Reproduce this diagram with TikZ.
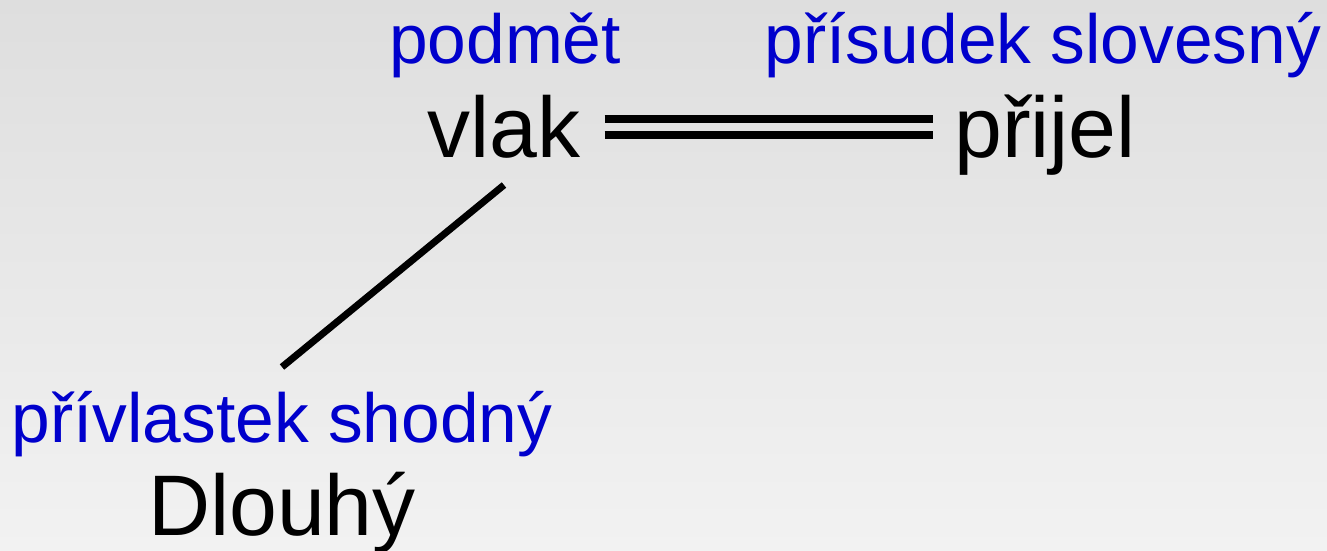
\documentclass[tikz,border=0pt]{standalone}
\usepackage[svgnames, dvipsnames, usenames]{xcolor}
\usepackage{fontspec}
\setmainfont{Liberation Sans}
\usepackage{tikz}
\usetikzlibrary{positioning}

\definecolor{rolecolor}{RGB}{0,0,204}
\definecolor{bgtop}{RGB}{222,222,222}
\definecolor{bgbottom}{RGB}{242,242,242}

\tikzset{
  word/.style={anchor=base, inner sep=0pt, text=black, font=\fontsize{86}{100}\selectfont},
  role/.style={anchor=base, inner sep=0pt, text=rolecolor, font=\fontsize{69.5}{80}\selectfont},
  link/.style={line width=7pt, line cap=butt}
}

\begin{document}
\begin{tikzpicture}[x=1pt, y=-1pt]
%%%%% Background %%%%%
\shade[top color=bgtop, bottom color=bgbottom] (0,0) rectangle (1327,550);
\useasboundingbox (0,0) rectangle (1327,550);
%%%%% Words %%%%%
\node[word] (vlak) at (504,157) {vlak};
\node[word] (prijel) at (1045,157) {přijel};
\node[word] (dlouhy) at (282,535) {Dlouhý};
%%%%% Roles %%%%%
\node[role] (podmet) at (505,63) {podmět};
\node[role] (prisudek) at (1043,63) {přísudek slovesný};
\node[role] (privlastek) at (282,442) {přívlastek shodný};
%%%%% Links %%%%%
\draw[link, line width=8pt] ([xshift=24pt,yshift=38pt]vlak.base east) -- ([xshift=-21pt,yshift=38pt]prijel.base west);
\draw[link, line width=8pt] ([xshift=24pt,yshift=22pt]vlak.base east) -- ([xshift=-21pt,yshift=22pt]prijel.base west);
\draw[link] ([yshift=-28pt]vlak.base) -- ([yshift=75pt]privlastek.base);
\end{tikzpicture}
\end{document}
